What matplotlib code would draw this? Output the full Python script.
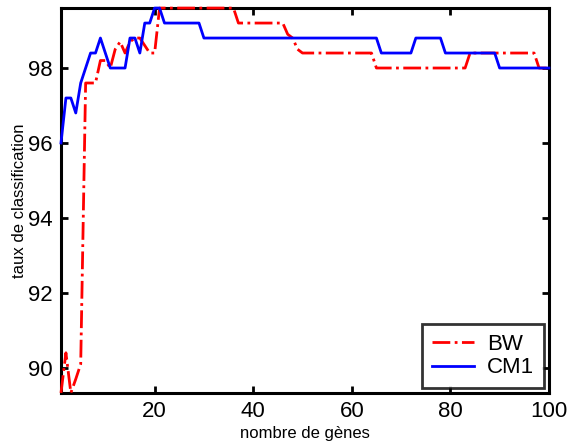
import numpy as np
import matplotlib
matplotlib.use('Agg')
import matplotlib.pyplot as plt

plt.rcParams['font.family'] = ['Liberation Sans', 'DejaVu Sans']

# nombre de genes
genes = np.arange(1, 101)

# BW (red dash-dot)
bw = ([89.33, 90.4, 89.33, 89.7, 90.1, 97.6, 97.6, 97.6, 98.2, 98.2,
       98.0, 98.5, 98.7, 98.4, 98.7, 98.8, 98.8, 98.6, 98.4, 98.4]
      + [99.6] * 16
      + [99.2] * 10
      + [98.9, 98.8, 98.5]
      + [98.4] * 15
      + [98.0] * 19
      + [98.4] * 14
      + [98.0] * 3)

# CM1 (blue solid)
cm1 = ([96.0, 97.2, 97.2, 96.8, 97.6, 98.0, 98.4, 98.4, 98.8, 98.4,
        98.0, 98.0, 98.0, 98.0, 98.8, 98.8, 98.4, 99.2, 99.2, 99.6, 99.6]
       + [99.2] * 8
       + [98.8] * 36
       + [98.4] * 7
       + [98.8] * 6
       + [98.4] * 11
       + [98.0] * 11)

fig = plt.figure(figsize=(5.7, 4.48), dpi=100)
ax = fig.add_axes([0.107, 0.123, 0.856, 0.859])

ax.plot(genes, bw, color='red', linestyle='-.', linewidth=2.0, label='BW',
        zorder=3, clip_on=False)
ax.plot(genes, cm1, color='blue', linestyle='-', linewidth=2.0, label='CM1',
        zorder=3, clip_on=False)

ax.set_xlim(1, 100)
ax.set_ylim(89.33, 99.6)
ax.set_xticks([20, 40, 60, 80, 100])
ax.set_yticks([90, 92, 94, 96, 98])

ax.tick_params(direction='in', length=5, width=2, labelsize=16,
               top=True, right=True, pad=6)
for s in ax.spines.values():
    s.set_linewidth(2.2)

ax.set_xlabel('nombre de gènes', fontsize=12, labelpad=3)
ax.set_ylabel('taux de classification', fontsize=12, labelpad=1)

leg = ax.legend(loc='lower right', fontsize=16, frameon=True, fancybox=False,
                handlelength=1.9, handletextpad=0.6, borderaxespad=0.2,
                labelspacing=0.1, borderpad=0.45)
leg.get_frame().set_edgecolor('black')
leg.get_frame().set_linewidth(2)
leg.set_zorder(5)

fig.savefig('out.png', dpi=100)
